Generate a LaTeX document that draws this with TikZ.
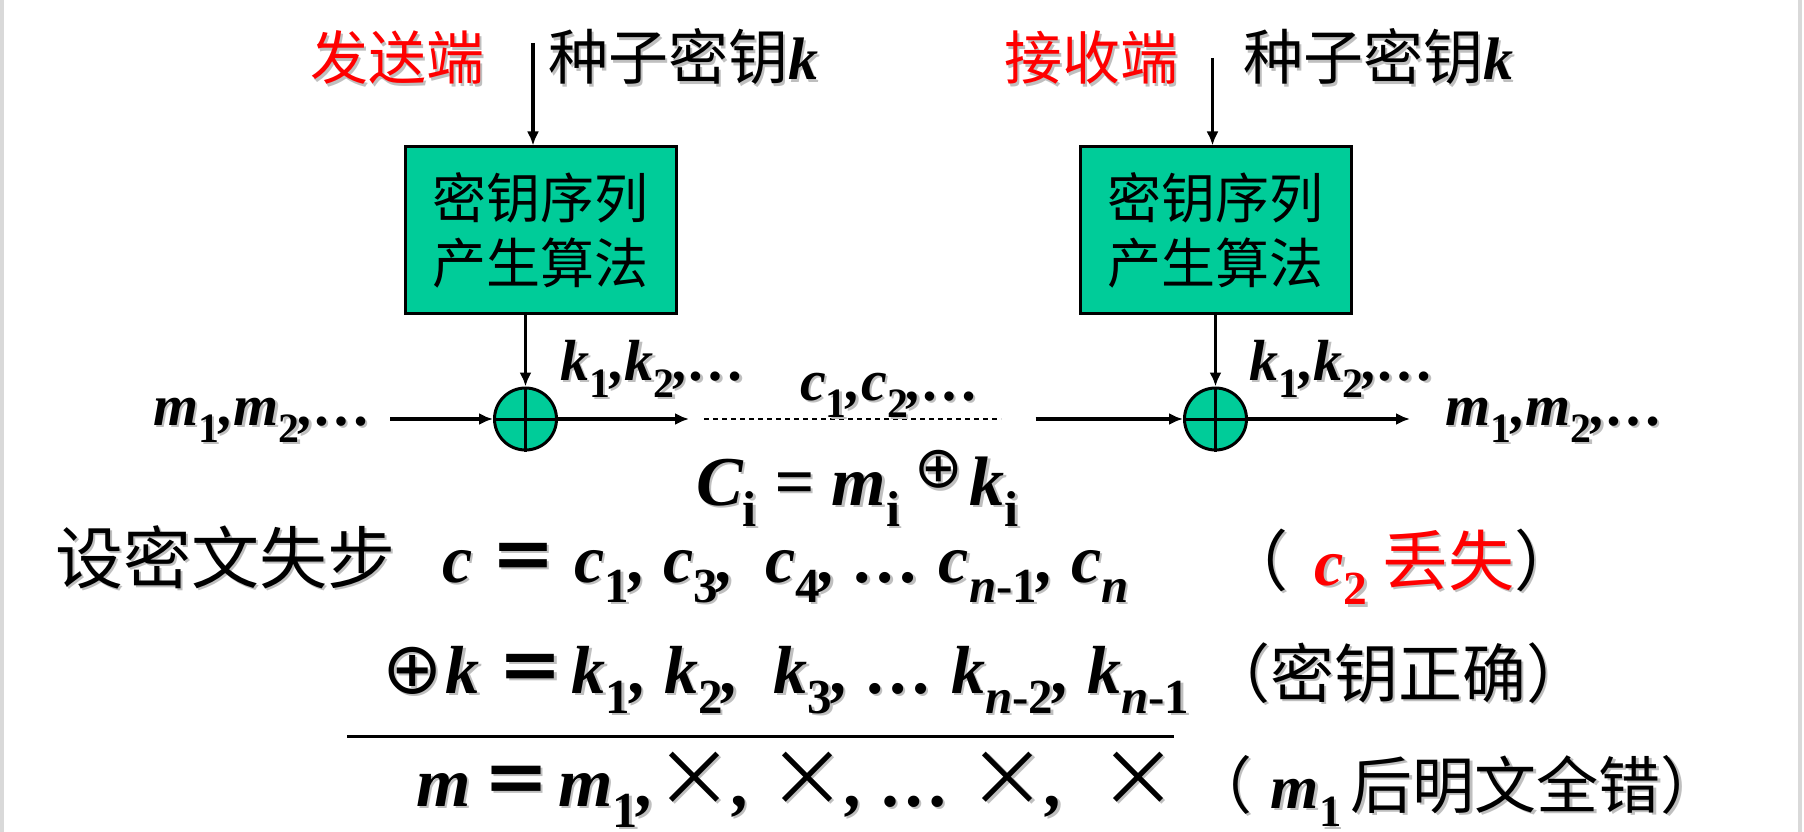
\documentclass[tikz,border=0pt]{standalone}
\usepackage{fontspec}
\setmainfont{Liberation Serif}
\newfontfamily\cjk{Noto Sans CJK SC}
\newfontfamily\sym{DejaVu Sans}
\usetikzlibrary{shapes,arrows,arrows.meta}
\usetikzlibrary{positioning}

\definecolor{keygreen}{RGB}{0,204,153}
\newcommand{\fsz}[1]{\fontsize{#1}{#1}\selectfont}
\newcommand{\bi}{\rmfamily\bfseries\itshape}
\newcommand{\dn}[1]{\raisebox{-0.3em}{\scalebox{0.72}{\upshape #1}}}
\newcommand{\cross}{{\cjk\mdseries\upshape\fsz{78}×}}
\newcommand{\xorsym}[2]{\raisebox{#2}{\sym\mdseries\upshape\fsz{#1}⊕}}
\newcommand{\hot}{\color{red}}
% text with a grey drop shadow
\newcommand{\shd}[1]{\makebox[0pt][l]{\kern2.5pt\raisebox{-2.5pt}{\def\hot{}\color{black!25}#1}}#1}

\begin{document}
\begin{tikzpicture}[x=1pt,y=-1pt,>={Latex[length=14pt,width=12pt]},
  genbox/.style={rectangle, draw, fill=keygreen, line width=3pt, minimum width=271pt, minimum height=166pt, align=center, font=\cjk\fontsize{54}{65}\selectfont},
  xorsum/.style={circle, draw, fill=keygreen, line width=3pt, minimum size=62pt, inner sep=0pt},
  lbl/.style={inner sep=0pt, anchor=base west},
  wire/.style={->, line width=3.5pt}]
\useasboundingbox (0,0) rectangle (1804,832);
\draw[black!15, line width=4pt] (2,0) -- (2,832) (1800,0) -- (1800,832);

% sender side
\node[genbox] (gen1) at (540.5,230) {密钥序列\\产生算法};
\node[xorsum] (xor1) at (525.5,419) {};
\node[lbl, font=\cjk\fsz{58}] (send) at (310,80) {\shd{\hot 发送端}};
\node[lbl, font=\cjk\fsz{60}] (seed1) at (548,80) {\shd{种子密钥{\bi k}}};
\coordinate (top1) at (533,43);
\coordinate (in1) at (390,419);
\coordinate (out1) at (689,419);
\draw[line width=3pt] (xor1.north) -- (xor1.south) (xor1.west) -- (xor1.east);
\draw[wire] (top1) -- (top1 |- gen1.north);
\draw[wire] (xor1 |- gen1.south) -- (xor1.north);
\draw[wire] (in1) -- (xor1.west);
\draw[wire] (xor1.east) -- (out1);
\node[lbl, font=\bi\fsz{58}] (ks1) at (560,380) {\shd{k\dn{1},k\dn{2},…}};
\node[lbl, font=\bi\fsz{58}] (ms1) at (153,425) {\shd{m\dn{1},m\dn{2},…}};

% channel
\coordinate (dash0) at (704,419);
\coordinate (dash1) at (1001,419);
\draw[dashed, line width=1.5pt, dash pattern=on 5pt off 4pt] (dash0) -- (dash1);
\node[lbl, font=\bi\fsz{58}] (cs) at (800,400) {\shd{c\dn{1},c\dn{2},…}};
\node[lbl, font=\bi\fsz{70}] (cform) at (696,505) {\shd{C\dn{i} = m\dn{i}\hspace{0.2em}\xorsym{58}{0.25em}\hspace{0.1em}k\dn{i}}};

% receiver side
\node[genbox] (gen2) at (1215.5,230) {密钥序列\\产生算法};
\node[xorsum] (xor2) at (1215.5,419) {};
\node[lbl, font=\cjk\fsz{58}] (recv) at (1004,80) {\shd{\hot 接收端}};
\node[lbl, font=\cjk\fsz{60}] (seed2) at (1243,80) {\shd{种子密钥{\bi k}}};
\coordinate (top2) at (1212.5,58);
\coordinate (in2) at (1035.5,419);
\coordinate (out2) at (1410,419);
\draw[line width=3pt] (xor2.north) -- (xor2.south) (xor2.west) -- (xor2.east);
\draw[wire] (top2) -- (top2 |- gen2.north);
\draw[wire] (gen2) -- (xor2.north);
\draw[wire] (in2) -- (xor2.west);
\draw[wire] (xor2.east) -- (out2);
\node[lbl, font=\bi\fsz{58}] (ks2) at (1249,380) {\shd{k\dn{1},k\dn{2},…}};
\node[lbl, font=\bi\fsz{58}] (ms2) at (1445,425) {\shd{m\dn{1},m\dn{2},…}};

% loss of sync
\node[lbl, font=\cjk\fsz{68}] (lost) at (55,583) {\shd{设密文失步}};
\node[lbl, font=\bi\fsz{68}] (cseq) at (442,582) {\shd{c {\cjk＝} c\dn{1}, c\dn{3},\hspace{0.45em}c\dn{4}, … c\dn{\textit{n}-1}, c\dn{\textit{n}}}};
\node[lbl, font=\cjk\fsz{66}] (note1) at (1222,585) {\shd{（\hspace{0.4em}{\bi\hot c\dn{2}} {\hot 丢失}）}};
\node[lbl, font=\bi\fsz{68}] (kseq) at (382,693) {\shd{\xorsym{72}{0pt}\hspace{0.05em}k {\cjk＝}\hspace{0.1em}k\dn{1}, k\dn{2},\ \ k\dn{3}, … k\dn{\textit{n}-2}, k\dn{\textit{n}-1}}};
\node[lbl, font=\cjk\fsz{64}] (note2) at (1206,697) {\shd{（密钥正确）}};
\coordinate (rule0) at (347,736);
\coordinate (rule1) at (1174,736);
\draw[line width=3pt] (rule0) -- (rule1);
\node[lbl, font=\bi\fsz{70}] (mseq) at (416,806) {\shd{m\hspace{0.15em}{\cjk＝}\hspace{0.1em}m\dn{1},\cross, \cross, … \cross,\ \ \cross}};
\node[lbl, font=\cjk\fsz{62}] (note3) at (1190,808) {\shd{（\hspace{0.3em}{\bi m\dn{1}}\hspace{0.15em}后明文全错）}};
\end{tikzpicture}
\end{document}
